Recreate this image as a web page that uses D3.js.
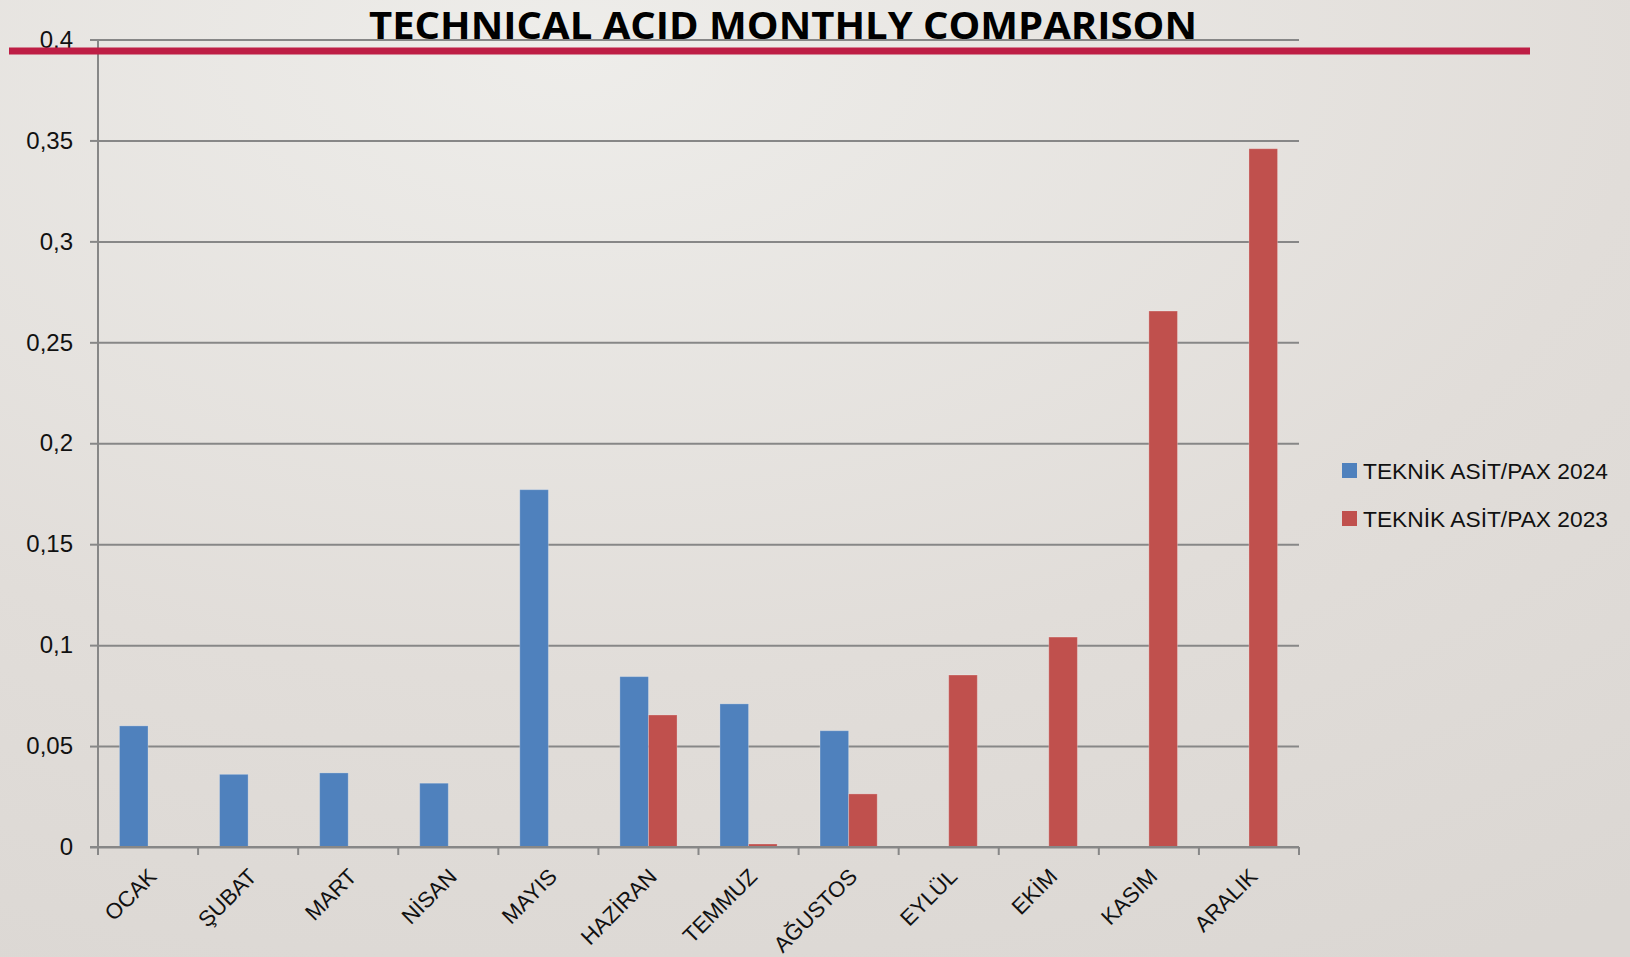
<!doctype html>
<html lang="tr">
<head>
<meta charset="utf-8">
<title>Technical Acid Monthly Comparison</title>
<style>
  html, body { margin: 0; padding: 0; }
  body { width: 1630px; height: 957px; overflow: hidden; }
  svg { display: block; font-family: "Liberation Sans", Arial, sans-serif; }
  .grid line { stroke: #878787; stroke-width: 2; }
  .axis path, .axis line { stroke: #878787; stroke-width: 2; }
  .ylab text, .xlab text { fill: #111; }
</style>
<script src="https://d3js.org/d3.v7.min.js"></script>
</head>
<body>
<svg id="chart" width="1630" height="957"></svg>
<script>
// chart data
var months = ["OCAK", "ŞUBAT", "MART", "NİSAN", "MAYIS", "HAZİRAN",
              "TEMMUZ", "AĞUSTOS", "EYLÜL", "EKİM", "KASIM", "ARALIK"];
var seriesNames = ["TEKNİK ASİT/PAX 2024", "TEKNİK ASİT/PAX 2023"];
var values2024 = [0.060, 0.036, 0.0367, 0.0316, 0.177, 0.0844, 0.0709, 0.0576, null, null, null, null];
var values2023 = [null, null, null, null, null, 0.0654, 0.0015, 0.0263, 0.0852, 0.104, 0.2655, 0.3459];
var yTicks = [0, 0.05, 0.1, 0.15, 0.2, 0.25, 0.3, 0.35, 0.4];
var colors = ["#4f81bd", "#c0504d"];

var svg = d3.select("#chart"),
    width = +svg.attr("width"),
    height = +svg.attr("height");

// slide background
var defs = svg.append("defs");
var bg = defs.append("radialGradient")
    .attr("id", "bg")
    .attr("cx", "0.35").attr("cy", "0.05").attr("r", "1.1");
bg.append("stop").attr("offset", "0").attr("stop-color", "#eeedea");
bg.append("stop").attr("offset", "0.6").attr("stop-color", "#e1ddd9");
bg.append("stop").attr("offset", "1").attr("stop-color", "#dbd7d3");
svg.append("rect").attr("width", width).attr("height", height).attr("fill", "url(#bg)");

var plot = { left: 98, right: 1299, top: 39.5, bottom: 847 };

var x0 = d3.scaleBand().domain(months).range([plot.left, plot.right]).paddingInner(0).paddingOuter(0);
var x1 = d3.scaleBand().domain([0, 1]).range([0, x0.bandwidth()]).paddingInner(0).paddingOuter(0.75);
var y = d3.scaleLinear().domain([0, 0.4]).range([plot.bottom, plot.top]);

function fmt(d) { return String(+d.toFixed(2)).replace(".", ","); }

// gridlines + y labels
var yAxis = svg.append("g")
    .attr("class", "axis grid ylab")
    .attr("transform", "translate(" + plot.left + ",0)")
    .call(d3.axisLeft(y).tickValues(yTicks).tickFormat(fmt).tickSize(8).tickPadding(17));
yAxis.select(".domain").remove();
yAxis.selectAll(".tick").append("line")
    .attr("x1", 0).attr("x2", plot.right - plot.left);
yAxis.selectAll("text")
    .style("font-size", "24px")
    .style("font-family", "'Liberation Sans', Arial, sans-serif");

// bars
var rows = months.map(function(m, i) { return { month: m, vals: [values2024[i], values2023[i]] }; });
var groups = svg.append("g").selectAll("g")
    .data(rows)
  .enter().append("g")
    .attr("transform", function(d) { return "translate(" + x0(d.month) + ",0)"; });
groups.selectAll("rect")
    .data(function(d) { return d.vals.map(function(v, k) { return { k: k, v: v }; }).filter(function(e) { return e.v != null; }); })
  .enter().append("rect")
    .attr("x", function(d) { return x1(d.k); })
    .attr("width", x1.bandwidth())
    .attr("y", function(d) { return y(d.v); })
    .attr("height", function(d) { return y(0) - y(d.v); })
    .attr("fill", function(d) { return colors[d.k]; })
    .attr("stroke", "rgba(255,255,255,0.25)")
    .attr("stroke-width", 1);

// axes lines
svg.append("line").attr("class", "axisline")
    .attr("x1", plot.left).attr("x2", plot.left)
    .attr("y1", plot.top).attr("y2", plot.bottom + 8)
    .attr("stroke", "#878787").attr("stroke-width", 2);
svg.append("line")
    .attr("x1", plot.left - 8).attr("x2", plot.right)
    .attr("y1", plot.bottom).attr("y2", plot.bottom)
    .attr("stroke", "#878787").attr("stroke-width", 2);
var bounds = months.map(function(m) { return x0(m); }).concat([plot.right]);
svg.append("g").selectAll("line")
    .data(bounds)
  .enter().append("line")
    .attr("x1", function(d) { return d; }).attr("x2", function(d) { return d; })
    .attr("y1", plot.bottom).attr("y2", plot.bottom + 8)
    .attr("stroke", "#878787").attr("stroke-width", 2);

// month labels
svg.append("g").attr("class", "xlab").selectAll("text")
    .data(months)
  .enter().append("text")
    .attr("transform", function(d) {
      return "translate(" + (x0(d) + x0.bandwidth() / 2 - 1) + "," + (plot.bottom + 20) + ") rotate(-45)";
    })
    .attr("text-anchor", "end")
    .attr("dy", "0.7em")
    .style("font-size", "22px")
    .text(function(d) { return d; });

// legend
var legend = svg.append("g").selectAll("g")
    .data(seriesNames)
  .enter().append("g")
    .attr("transform", function(d, i) { return "translate(1342," + (463 + i * 48) + ")"; });
legend.append("rect").attr("width", 15).attr("height", 15)
    .attr("fill", function(d, i) { return colors[i]; });
legend.append("text")
    .attr("x", 21).attr("y", 16)
    .attr("textLength", 245).attr("lengthAdjust", "spacingAndGlyphs")
    .style("font-size", "22px").attr("fill", "#111")
    .text(function(d) { return d; });

// title and red rule
svg.append("text")
    .attr("x", 783).attr("y", 38.5)
    .attr("text-anchor", "middle")
    .attr("textLength", 828).attr("lengthAdjust", "spacingAndGlyphs")
    .style("font-family", "'Open Sans', 'Liberation Sans', sans-serif")
    .style("font-weight", "bold").style("font-size", "37px")
    .attr("fill", "#000")
    .text("TECHNICAL ACID MONTHLY COMPARISON");
svg.append("rect")
    .attr("x", 9).attr("y", 47.5).attr("width", 1521).attr("height", 7)
    .attr("fill", "#be1e45");
</script>
</body>
</html>
